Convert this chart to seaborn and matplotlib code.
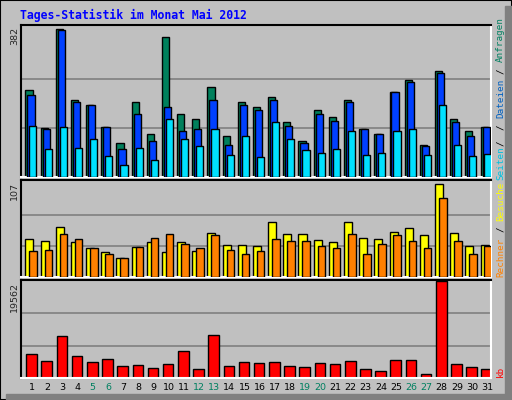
import matplotlib
matplotlib.use("Agg")
import matplotlib.pyplot as plt
import seaborn as sns
import numpy as np
from matplotlib.patches import Rectangle

sns.set_style("white")

days = list(range(1, 32))
weekend = [5, 6, 12, 13, 19, 20, 26, 27]
anfragen = [225,126,382,200,185,128,89,193,110,361,162,149,232,107,195,180,206,141,92,172,156,198,125,112,221,250,84,273,149,120,130]
dateien  = [213,123,379,195,185,128,73,162,92,182,120,123,198,84,185,172,198,133,88,162,146,193,123,110,219,245,81,268,143,105,128]
seiten   = [131,72,128,76,99,55,32,76,45,151,97,81,125,58,105,53,141,97,71,63,73,118,58,63,120,123,58,187,84,55,60]
besuche  = [44,41,58,40,33,29,22,35,40,29,40,30,51,37,37,36,64,50,50,43,40,63,45,44,52,57,49,107,51,36,37]
rechner  = [30,31,50,44,33,27,22,35,45,50,38,33,49,31,27,30,44,41,41,36,34,50,27,38,49,41,34,91,42,26,36]
kb = [4784,3500,8425,4355,3284,3927,2427,2642,1999,2856,5426,1785,8640,2427,3284,3070,3284,2427,2213,3070,2856,3500,1785,1357,3713,3713,714,19562,2856,2213,1785]

BG = "#C0C0C0"
W, H = 512, 400
fig = plt.figure(figsize=(W/100, H/100), dpi=100)
fig.patch.set_facecolor(BG)
fig.patches.append(Rectangle((0, 0), 1, 1, transform=fig.transFigure, fill=False, edgecolor="black", lw=1.5))
fig.patches.append(Rectangle((505/W, 0), 7/W, 1-6/H, transform=fig.transFigure, color="#808080"))
fig.patches.append(Rectangle((6/W, 0), 1-6/W, 6/H, transform=fig.transFigure, color="#808080"))

def px_axes(x0, y0, x1, y1):
    return fig.add_axes([x0/W, 1-y1/H, (x1-x0)/W, (y1-y0)/H])

L, R = 20.7, 491
axes = [px_axes(L, 25, R, 177), px_axes(L, 180, R, 277), px_axes(L, 280, R, 378)]
x = np.array(days) - 1.0

def style(ax, top, mx):
    ax.set_facecolor(BG)
    ax.set_xlim(0, 31)
    ax.set_ylim(0, top)
    for g in (mx/3, 2*mx/3):
        ax.axhline(g, color="#808080", lw=1.2, zorder=0)
    ax.set_xticks([]); ax.set_yticks([])
    ax.spines["top"].set_color("black"); ax.spines["left"].set_color("black")
    ax.spines["right"].set_color("white"); ax.spines["bottom"].set_color("white")
    for s in ax.spines.values():
        s.set_linewidth(1.5)

ax = axes[0]
style(ax, 393, 382)
ax.bar(x + 0.31, anfragen, width=0.47, align="edge", color="#00805C", edgecolor="black", lw=1, zorder=2)
ax.bar(x + 0.44, dateien, width=0.47, align="edge", color="#0040FF", edgecolor="black", lw=1, zorder=3)
ax.bar(x + 0.57, seiten, width=0.47, align="edge", color="#00E0FF", edgecolor="black", lw=1, zorder=4)

ax = axes[1]
style(ax, 112, 107)
ax.bar(x + 0.31, besuche, width=0.53, align="edge", color="#FFFF00", edgecolor="black", lw=1, zorder=2)
ax.bar(x + 0.57, rechner, width=0.5, align="edge", color="#FF8000", edgecolor="black", lw=1, zorder=3)

ax = axes[2]
style(ax, 19562*1.01, 19562)
ax.bar(x + 0.37, kb, width=0.7, align="edge", color="#FF0000", edgecolor="black", lw=1, zorder=2)

for d in days:
    c = "#008060" if d in weekend else "black"
    xp = L + (d - 1 + 0.75) * (R - L) / 31
    fig.text(xp/W, 1-388/H, str(d), color=c, ha="center", va="center", fontsize=6.8, family="DejaVu Sans")

fig.text(20/W, 1-15/H, "Tages-Statistik im Monat Mai 2012", color="#0000FF", fontsize=8.3,
         family="DejaVu Sans Mono", fontweight="bold", ha="left", va="center")

for lbl, ytop in (("382", 27), ("107", 182), ("19562", 282)):
    fig.text(14.5/W, 1-ytop/H, lbl, rotation=90, ha="center", va="top", fontsize=6.8, family="DejaVu Sans")

CH = 5.6
def vlabel(pieces, ybottom, xc=500.7):
    k = 0
    for txt, col in pieces:
        if txt.strip():
            fig.text(xc/W, (H - ybottom + k*CH)/H, txt.strip(), rotation=90, color=col,
                     ha="center", va="bottom", fontsize=6.7, family="DejaVu Sans Mono")
        k += len(txt)

vlabel([("Seiten", "#00C0E0"), (" / ", "black"), ("/", "black"), (" ", "black"),
        ("Dateien", "#0060C0"), (" ", "black"), ("/", "black"), (" ", "black"), ("Anfragen", "#008060")], 180)
vlabel([("Rechner", "#FF8000"), (" ", "black"), ("/", "black"), (" ", "black"), ("Besuche", "#FFFF00")], 277)
vlabel([("kb", "#FF0000")], 377)

fig.savefig("out.png", dpi=100, facecolor=BG)
